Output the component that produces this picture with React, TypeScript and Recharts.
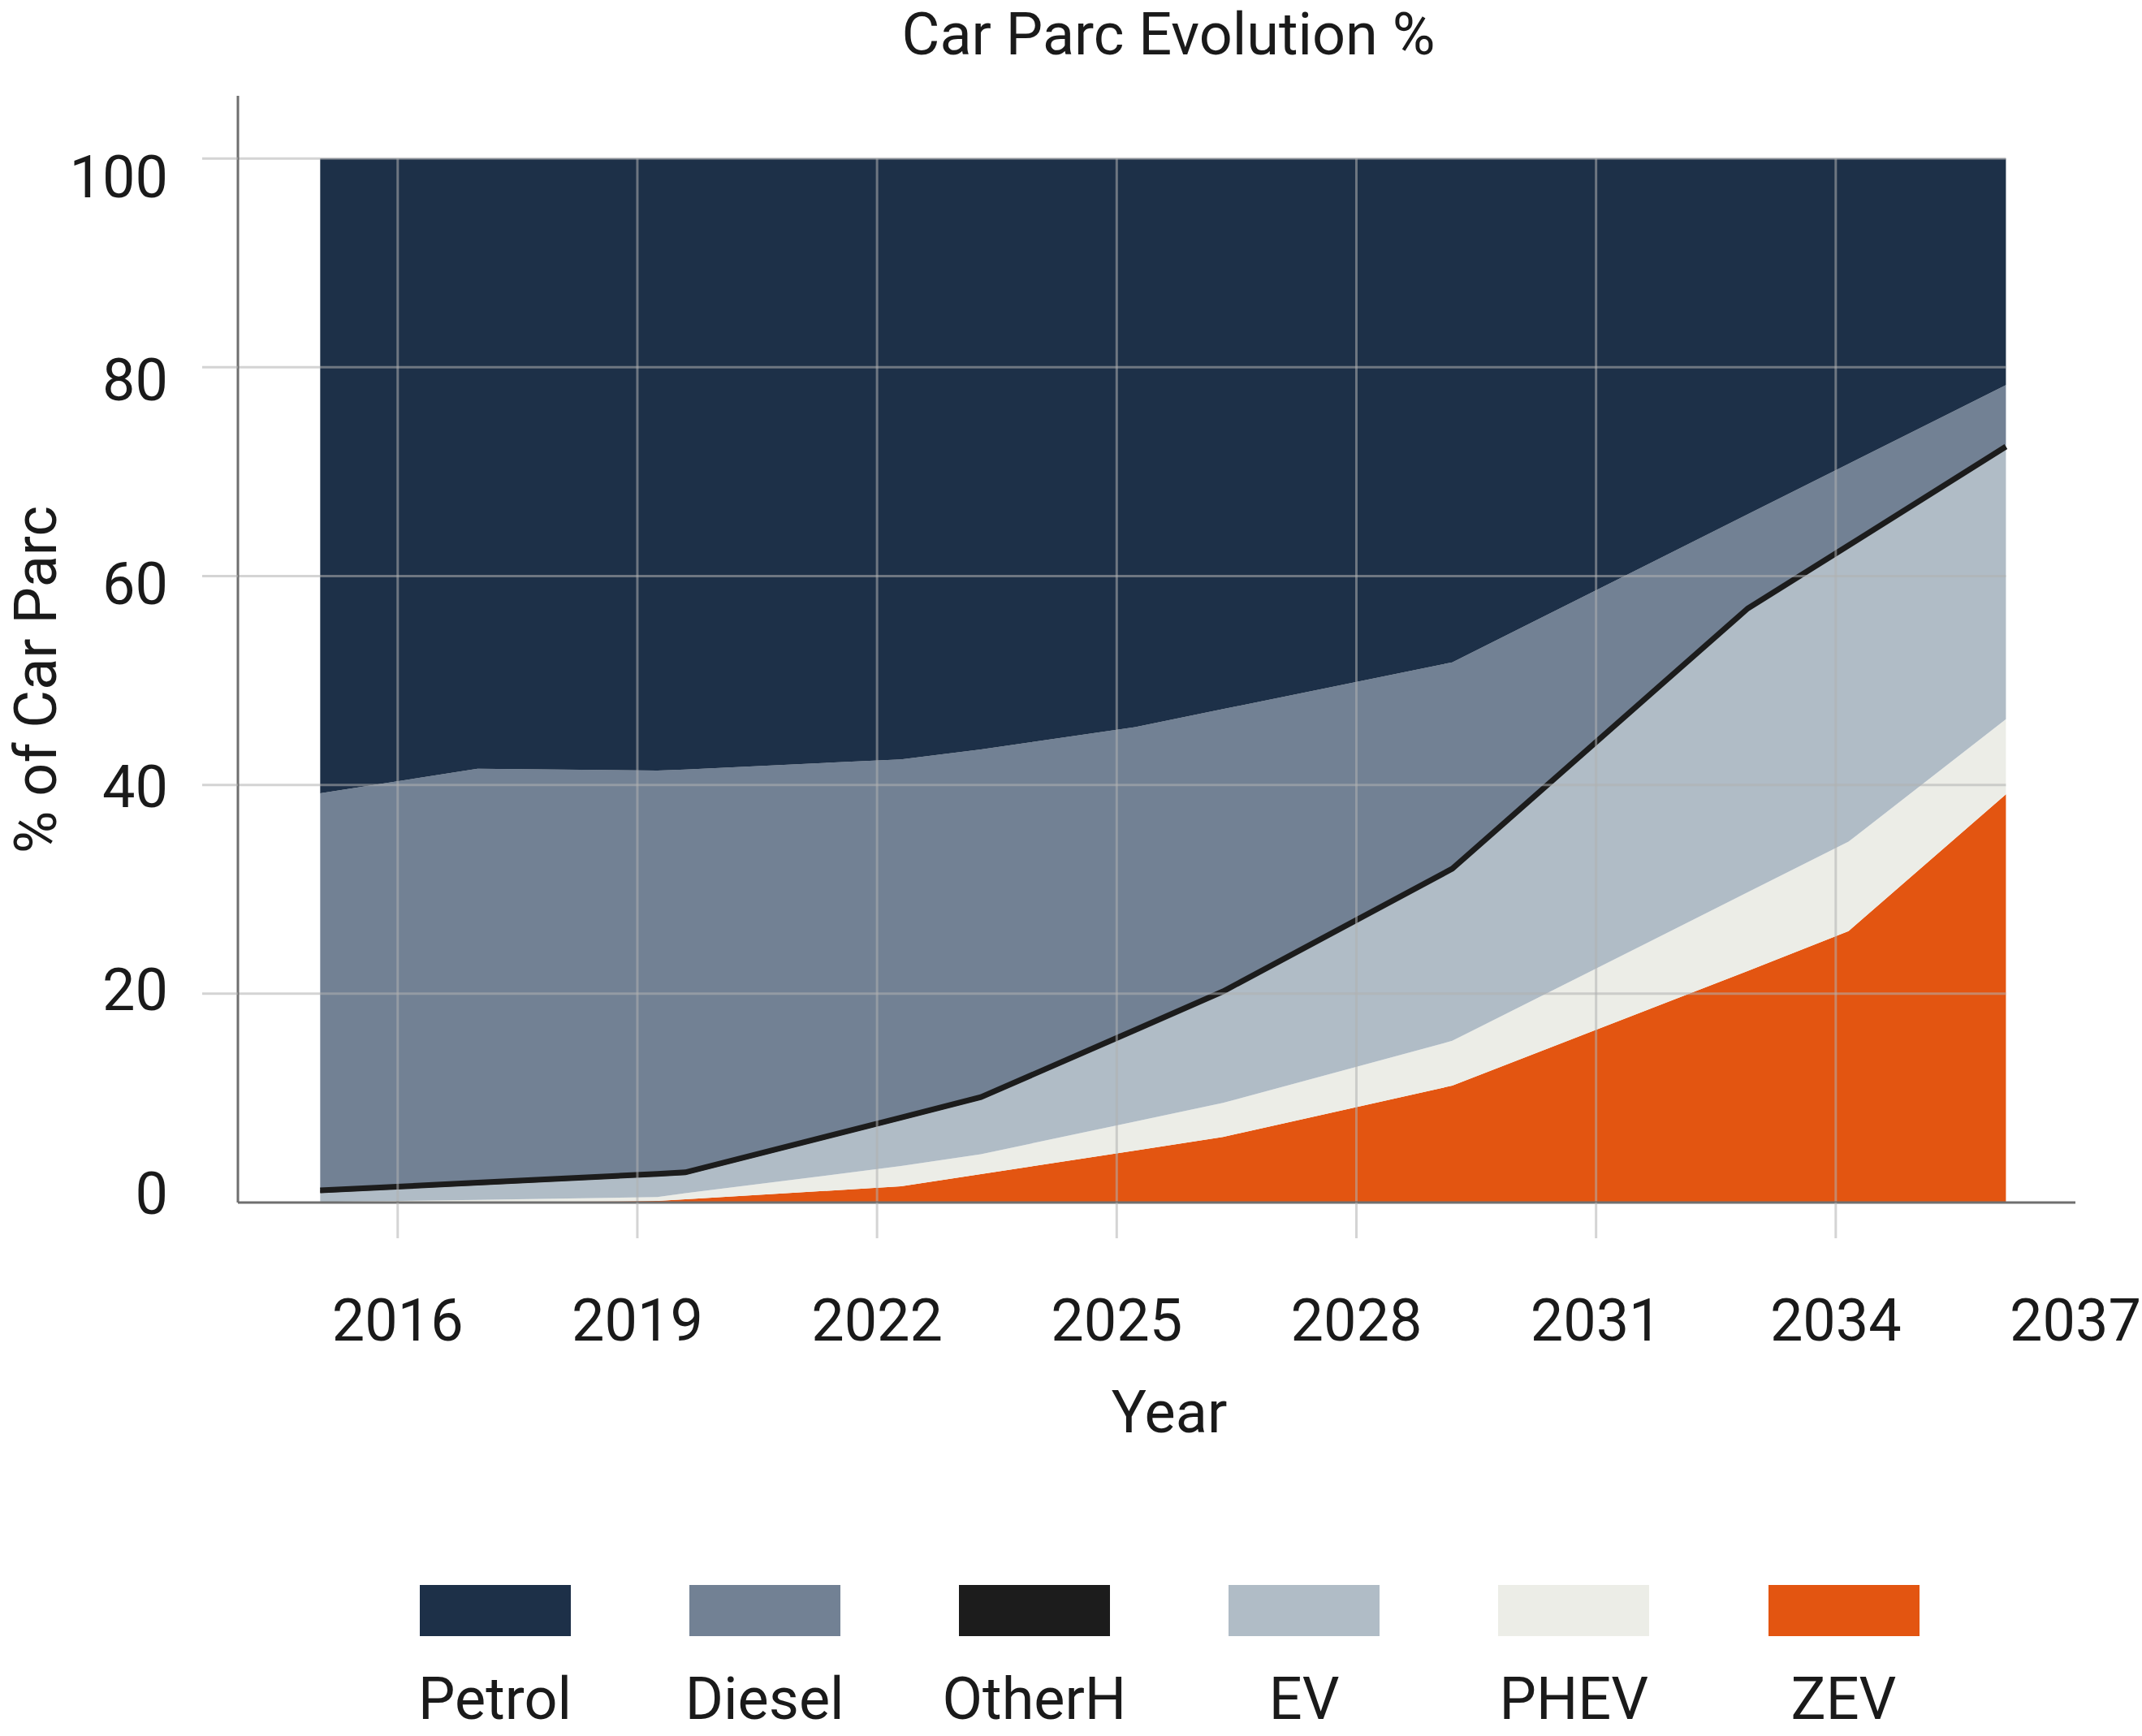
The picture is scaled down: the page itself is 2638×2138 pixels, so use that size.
import React from 'react';
import { ComposedChart, Area, Line, XAxis, YAxis, ReferenceLine } from 'recharts';

// Values (share of car parc, %)
const years = [2015.03, 2017.0, 2019.25, 2019.6, 2022.3, 2023.3, 2025.23, 2026.33, 2029.2, 2032.9, 2034.16, 2036.13];
const zev = [0, 0.03, 0.15, 0.31, 1.55, 2.72, 4.97, 6.28, 11.2, 22.19, 26.0, 39.1];
const phev = [0.05, 0.22, 0.37, 0.58, 1.94, 1.91, 2.78, 3.26, 4.29, 7.53, 8.56, 7.19];
const ev = [0.87, 1.41, 1.99, 1.76, 4.41, 5.22, 8.54, 10.44, 16.24, 26.95, 28.13, 25.87];
const otherH = [0.24, 0.24, 0.24, 0.24, 0.24, 0.24, 0.24, 0.24, 0.24, 0.24, 0.24, 0.24];
const diesel = [38.04, 39.65, 38.62, 38.59, 34.31, 33.31, 29.01, 27.04, 19.77, 9.02, 7.82, 5.89];
const petrol = [60.8, 58.45, 58.63, 58.52, 57.55, 56.6, 54.46, 52.74, 48.26, 34.07, 29.25, 21.71];

const xTicks = [2016, 2019, 2022, 2025, 2028, 2031, 2034, 2037];
const yTicks = [0, 20, 40, 60, 80, 100];

// stacking order, bottom first
const series = [
  { key: 'ZEV', values: zev, color: '#e35511' },
  { key: 'PHEV', values: phev, color: '#ecede7' },
  { key: 'EV', values: ev, color: '#b0bcc6' },
  { key: 'OtherH', values: otherH, color: '#1c1c1c' },
  { key: 'Diesel', values: diesel, color: '#728194' },
  { key: 'Petrol', values: petrol, color: '#1d3048' },
];

const data = years.map((year, i) => {
  const row: Record<string, number> = { year };
  series.forEach((s) => {
    row[s.key] = s.values[i];
  });
  return row;
});

// top edge of the OtherH band, drawn as a thick outline over the stack
const otherHTop = (row: Record<string, number>) => row.ZEV + row.PHEV + row.EV + row.OtherH;

const lastYear = years[years.length - 1];
const xDomain = [2014, 2037];

const FONT = 'Roboto, "Noto Sans", sans-serif';
const TEXT = '#1a1a1a';
const GRID = '#b0b0b0';
const AXIS = '#6f6f6f';
const FS = 72;

const X_TICK_SIZE = 44;
const X_TICK_MARGIN = 75;
const Y_TICK_SIZE = 44;
const Y_TICK_MARGIN = 42;

const XTick = (props: any) => {
  const { x, y, payload } = props;
  const axisY = y - X_TICK_SIZE - X_TICK_MARGIN;
  return (
    <g>
      {payload.value < lastYear && (
        <line x1={x} x2={x} y1={axisY} y2={axisY + X_TICK_SIZE} stroke={GRID} strokeOpacity={0.55} strokeWidth={3} />
      )}
      <text x={x} y={y} dy="0.71em" textAnchor="middle" fontSize={FS} fontFamily={FONT} fill={TEXT}>
        {payload.value}
      </text>
    </g>
  );
};

// the labels in the reference sit slightly off their gridlines
const YTick = (props: any) => {
  const { x, y, payload } = props;
  const axisX = x + Y_TICK_SIZE + Y_TICK_MARGIN;
  const labelY = y - 12 + 0.344 * payload.value;
  return (
    <g>
      {payload.value > 0 && (
        <line x1={axisX - Y_TICK_SIZE} x2={axisX} y1={y} y2={y} stroke={GRID} strokeOpacity={0.55} strokeWidth={3} />
      )}
      <text x={x} y={labelY} dy="0.355em" textAnchor="end" fontSize={FS} fontFamily={FONT} fill={TEXT}>
        {payload.value}
      </text>
    </g>
  );
};

const legendItems = [...series].reverse();

const App = () => {
  return (
    <div
      style={{
        position: 'absolute',
        left: 0,
        top: 0,
        width: 2638,
        height: 2138,
        background: '#ffffff',
        fontFamily: FONT,
        color: TEXT,
        overflow: 'hidden',
      }}
    >
      <div
        style={{
          position: 'absolute',
          left: 1439 - 800,
          top: 0,
          width: 1600,
          textAlign: 'center',
          fontSize: FS,
          lineHeight: '86px',
        }}
      >
        Car Parc Evolution %
      </div>

      <ComposedChart width={2638} height={1700} data={data} margin={{ top: 118, right: 82, left: 0, bottom: 0 }}>
        <XAxis
          type="number"
          dataKey="year"
          domain={xDomain}
          ticks={xTicks}
          interval={0}
          height={219}
          tickSize={X_TICK_SIZE}
          tickMargin={X_TICK_MARGIN}
          tickLine={false}
          axisLine={{ stroke: AXIS, strokeWidth: 3 }}
          tick={XTick}
        />
        <YAxis
          type="number"
          domain={[0, 106]}
          ticks={yTicks}
          interval={0}
          width={293}
          tickSize={Y_TICK_SIZE}
          tickMargin={Y_TICK_MARGIN}
          tickLine={false}
          axisLine={{ stroke: AXIS, strokeWidth: 3 }}
          tick={YTick}
        />
        {series.map((s) => (
          <Area
            key={s.key}
            type="linear"
            dataKey={s.key}
            stackId="parc"
            stroke="none"
            fill={s.color}
            fillOpacity={1}
            dot={false}
            activeDot={false}
            isAnimationActive={false}
          />
        ))}
        <Line
          type="linear"
          dataKey={otherHTop}
          name="OtherH"
          stroke="#1c1c1c"
          strokeWidth={7}
          dot={false}
          activeDot={false}
          legendType="none"
          isAnimationActive={false}
        />
        {yTicks
          .filter((v) => v > 0)
          .map((v) => (
            <ReferenceLine
              key={`h${v}`}
              segment={[{ x: xDomain[0], y: v }, { x: lastYear, y: v }]}
              stroke={GRID}
              strokeOpacity={0.55}
              strokeWidth={3}
              ifOverflow="visible"
            />
          ))}
        {xTicks
          .filter((t) => t < lastYear)
          .map((t) => (
            <ReferenceLine
              key={`v${t}`}
              segment={[{ x: t, y: 0 }, { x: t, y: 100 }]}
              stroke={GRID}
              strokeOpacity={0.55}
              strokeWidth={3}
              ifOverflow="visible"
            />
          ))}
      </ComposedChart>

      <div
        style={{
          position: 'absolute',
          left: 45 - 300,
          top: 837 - 43,
          width: 600,
          textAlign: 'center',
          fontSize: FS,
          lineHeight: '86px',
          transform: 'rotate(-90deg)',
        }}
      >
        % of Car Parc
      </div>

      <div
        style={{
          position: 'absolute',
          left: 1440 - 300,
          top: 1697,
          width: 600,
          textAlign: 'center',
          fontSize: FS,
          lineHeight: '86px',
        }}
      >
        Year
      </div>

      {legendItems.map((item, i) => {
        const cx = 609.5 + i * 332.2;
        return (
          <div key={item.key}>
            <div
              style={{
                position: 'absolute',
                left: cx - 93,
                top: 1952,
                width: 186,
                height: 63,
                background: item.color,
              }}
            />
            <div
              style={{
                position: 'absolute',
                left: cx - 160,
                top: 2050,
                width: 320,
                textAlign: 'center',
                fontSize: FS,
                lineHeight: '86px',
              }}
            >
              {item.key}
            </div>
          </div>
        );
      })}
    </div>
  );
};

export default App;
